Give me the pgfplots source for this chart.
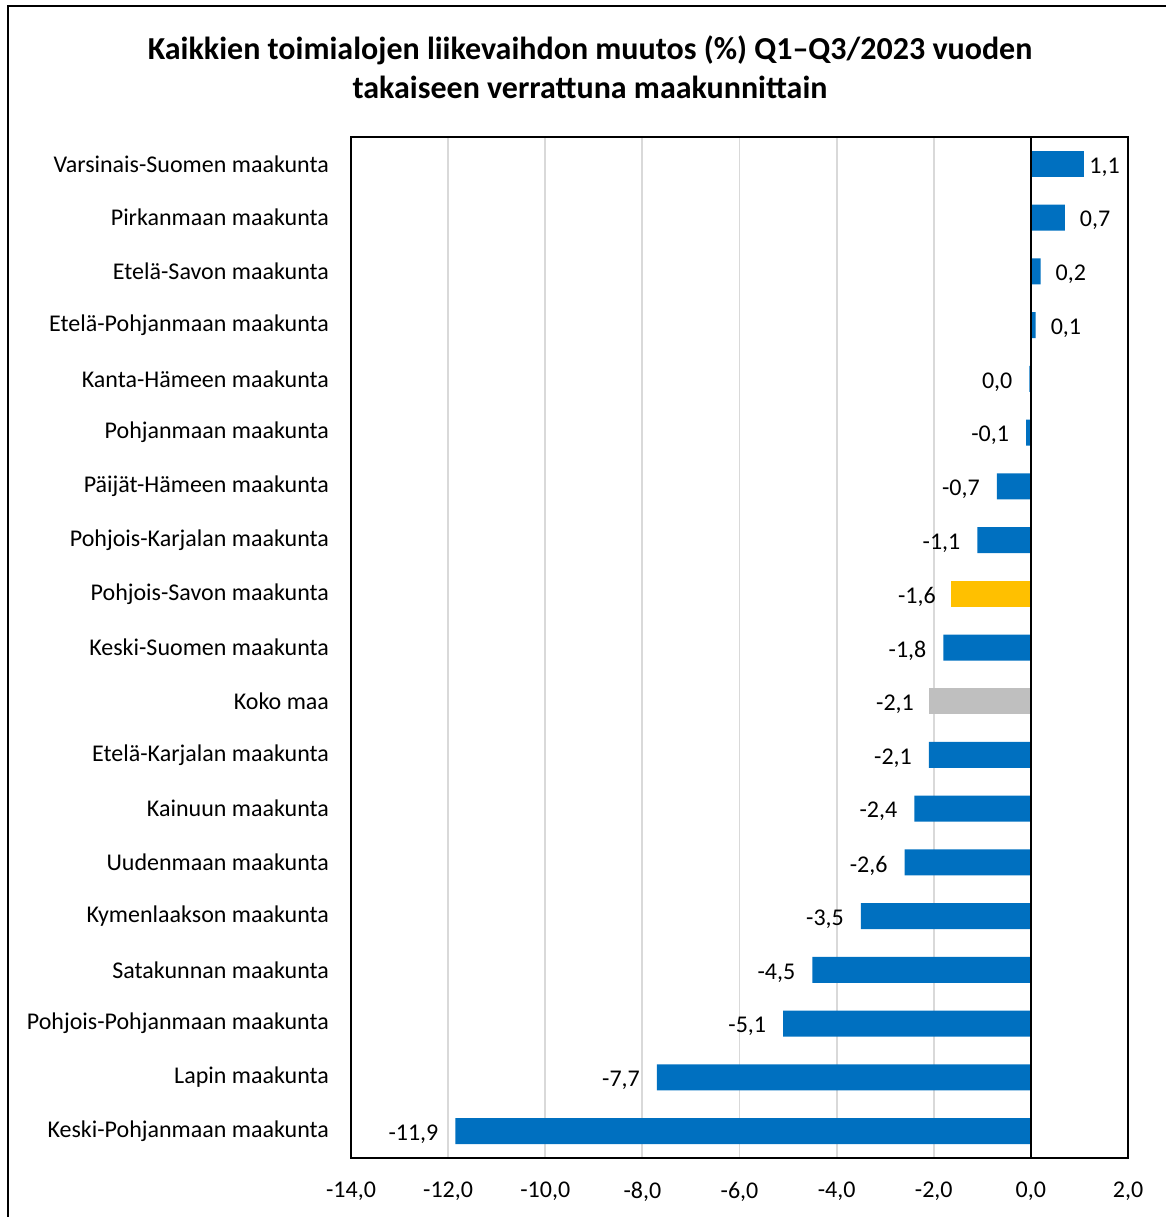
\documentclass[border=0pt]{standalone}
\usepackage{pgfplots}
\pgfplotsset{compat=1.18}
\usepackage{pgfplotstable}
\usepackage{fontspec}
\setmainfont{Carlito}
\definecolor{barblue}{HTML}{0070C0}
\definecolor{baryellow}{HTML}{FFC000}
\definecolor{bargrey}{HTML}{BFBFBF}
\definecolor{gridgrey}{HTML}{D9D9D9}
\pgfplotstableread{
x y lab
1.1 0 {1,1}
}\top
\pgfplotstableread{
x y lab
0.7 1 {0,7}
0.2 2 {0,2}
0.1 3 {0,1}
}\pos
\pgfplotstableread{
x y lab
-0.03 4 {0,0}
-0.1 5 {-0,1}
-0.7 6 {-0,7}
-1.1 7 {-1,1}
-1.8 9 {-1,8}
-2.1 11 {-2,1}
-2.4 12 {-2,4}
-2.6 13 {-2,6}
-3.5 14 {-3,5}
-4.5 15 {-4,5}
-5.1 16 {-5,1}
-7.7 17 {-7,7}
-11.85 18 {-11,9}
}\neg
\pgfplotstableread{
x y lab
-1.65 8 {-1,6}
}\yel
\pgfplotstableread{
x y lab
-2.1 10 {-2,1}
}\gry
\begin{document}
\begin{tikzpicture}
\useasboundingbox (0pt,0pt) rectangle (583pt,608.5pt);
\clip (0pt,0pt) rectangle (583pt,608.5pt);
\draw[line width=1pt] (4pt,-10pt) -- (4pt,605.5pt) -- (600pt,605.5pt);
\node[font=\fontsize{16}{19.5}\selectfont\bfseries, align=center] at (295pt,575pt) {Kaikkien toimialojen liikevaihdon muutos (\%) Q1–Q3/2023 vuoden\\takaiseen verrattuna maakunnittain};
\begin{axis}[
  at={(175.5pt,29.5pt)}, anchor=south west,
  scale only axis, width=388.5pt, height=510.5pt,
  xmin=-14, xmax=2, ymin=-0.5, ymax=18.5,
  y dir=reverse,
  xtick={-14,-12,...,2},
  xticklabels={{-14,0},{-12,0},{-10,0},{-8,0},{-6,0},{-4,0},{-2,0},{0,0},{2,0}},
  ytick={0,...,18},
  yticklabels={Varsinais-Suomen maakunta,Pirkanmaan maakunta,Etelä-Savon maakunta,Etelä-Pohjanmaan maakunta,Kanta-Hämeen maakunta,Pohjanmaan maakunta,Päijät-Hämeen maakunta,Pohjois-Karjalan maakunta,Pohjois-Savon maakunta,Keski-Suomen maakunta,Koko maa,Etelä-Karjalan maakunta,Kainuun maakunta,Uudenmaan maakunta,Kymenlaakson maakunta,Satakunnan maakunta,Pohjois-Pohjanmaan maakunta,Lapin maakunta,Keski-Pohjanmaan maakunta},
  major tick length=0pt,
  xmajorgrids, major grid style={gridgrey, line width=0.9pt},
  axis line style={line width=1pt},
  tick label style={font=\fontsize{12}{14}\selectfont},
  xticklabel style={yshift=-8.5pt},
  yticklabel style={xshift=-7.5pt},
  point meta=explicit symbolic,
  nodes near coords,
  nodes near coords style={font=\fontsize{12}{14}\selectfont, black, yshift=-1.5pt},
  clip=false,
]
\addplot[xbar, bar width=13pt, bar shift=0pt, fill=barblue, draw=none,
  every node near coord/.append style={anchor=west, xshift=-1pt}] table[x=x,y=y,meta=lab]{\top};
\addplot[xbar, bar width=13pt, bar shift=0pt, fill=barblue, draw=none,
  every node near coord/.append style={anchor=west, xshift=4pt}] table[x=x,y=y,meta=lab]{\pos};
\addplot[xbar, bar width=13pt, bar shift=0pt, fill=barblue, draw=none,
  every node near coord/.append style={anchor=east, xshift=-5pt}] table[x=x,y=y,meta=lab]{\neg};
\addplot[xbar, bar width=13pt, bar shift=0pt, fill=baryellow, draw=none,
  every node near coord/.append style={anchor=east, xshift=-4pt}] table[x=x,y=y,meta=lab]{\yel};
\addplot[xbar, bar width=13pt, bar shift=0pt, fill=bargrey, draw=none,
  every node near coord/.append style={anchor=east, xshift=-4pt}] table[x=x,y=y,meta=lab]{\gry};
\draw[line width=1pt] (axis cs:0,-0.5) -- (axis cs:0,18.5);
\end{axis}
\end{tikzpicture}
\end{document}
